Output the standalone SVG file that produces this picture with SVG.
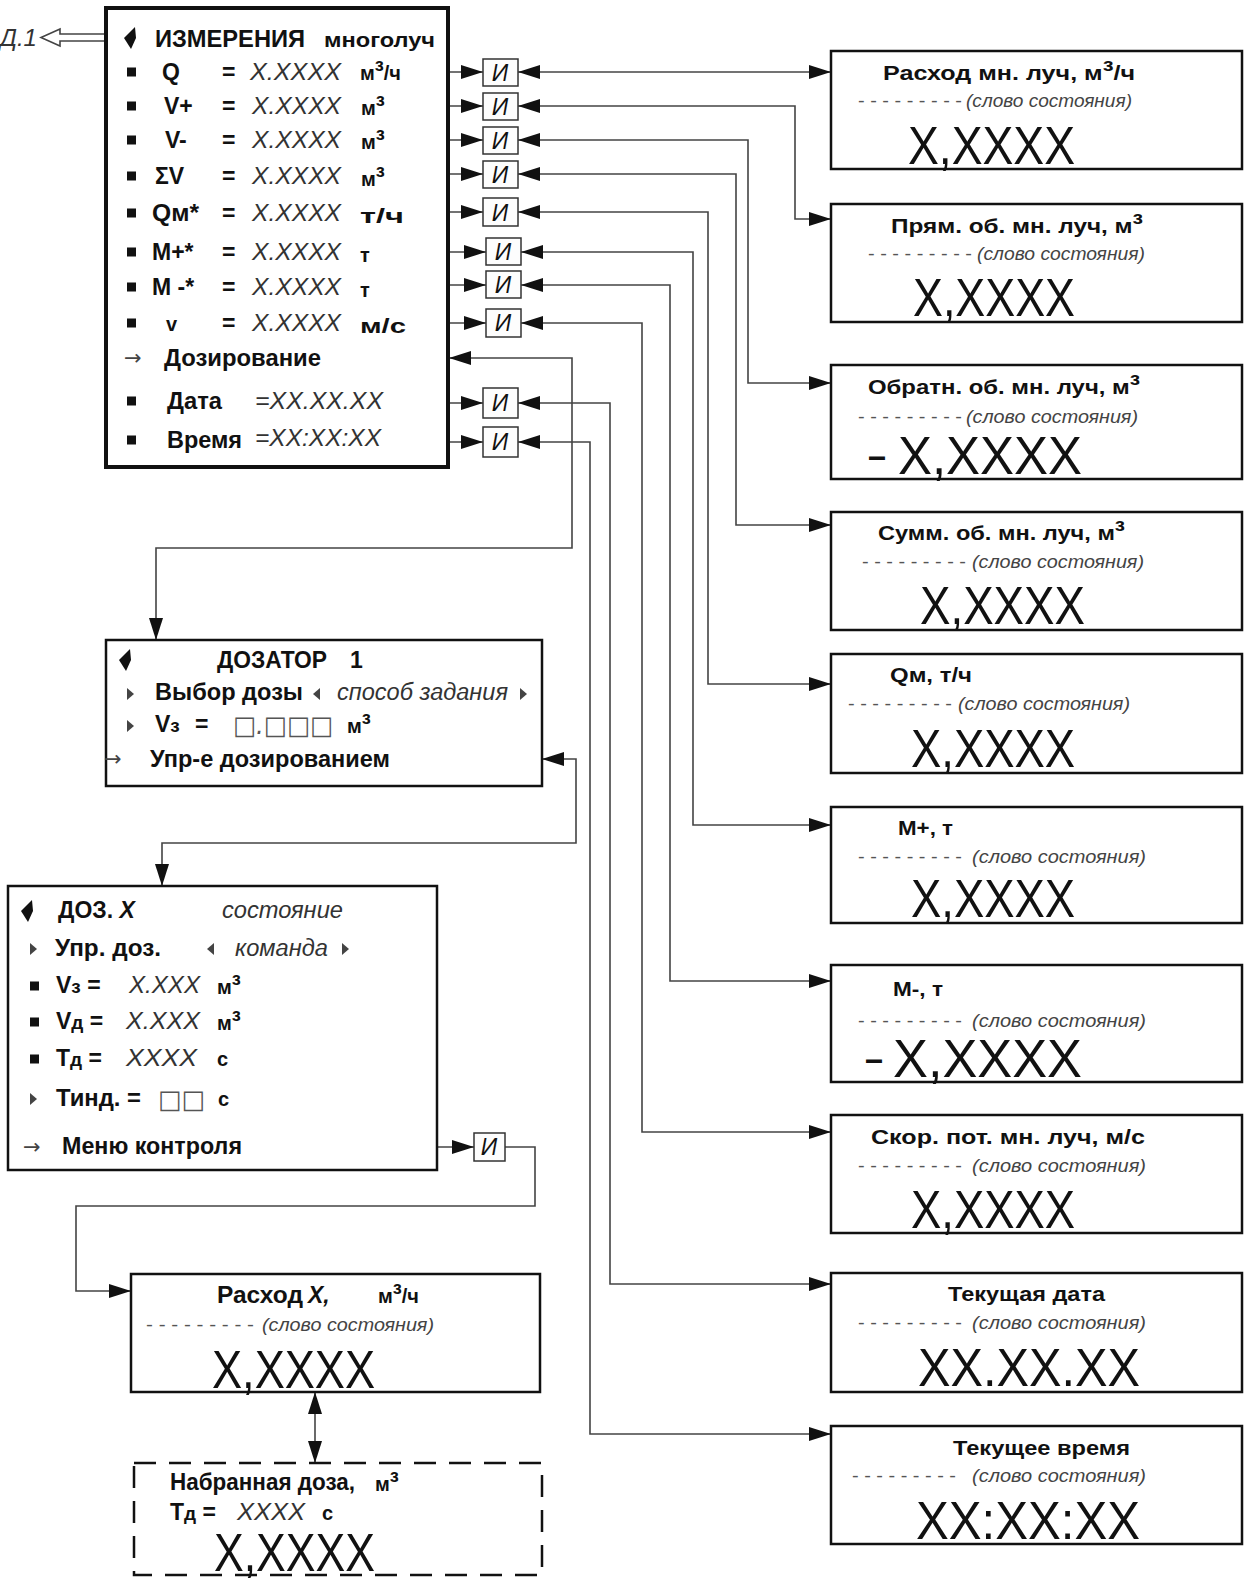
<svg xmlns="http://www.w3.org/2000/svg" width="1249" height="1582" viewBox="0 0 1249 1582">
<style>
text{font-family:"Liberation Sans",Arial,sans-serif}
.b{font-weight:bold;fill:#111;font-size:23px}
.u{font-weight:bold;fill:#111;font-size:20px}
.t{font-weight:bold;fill:#111;font-size:21px}
.i{font-style:italic;fill:#333;font-size:23px}
.s{font-style:italic;fill:#444;font-size:19px}
.d{fill:#555;font-size:19px}
.v{fill:#111;font-size:54px}
.ar{font-family:"DejaVu Sans",sans-serif;fill:#444;font-size:21px}
.g{font-family:"DejaVu Sans",sans-serif;font-style:italic;fill:#555;font-size:26px}
.sp{font-size:27px}
.box{fill:#fff;stroke:#111;stroke-width:2.5}
.ib{fill:#fdfdfd;stroke:#333;stroke-width:1.5}
.it{font-style:italic;fill:#111;font-size:23px;text-anchor:middle}
.c{fill:none;stroke:#444;stroke-width:1.6}
</style>
<defs>
<marker id="ah" markerWidth="22" markerHeight="14" refX="22" refY="7" orient="auto-start-reverse" markerUnits="userSpaceOnUse"><path d="M0,0 L22,7 L0,14 Z" fill="#111"/></marker>
<path id="ptr" d="M5,-11 L6,0 L1,11 L-6,0 Z" fill="#111"/>
<rect id="bul" x="0" y="-4.5" width="9" height="9" fill="#111"/>
<path id="tr" d="M0,-6 L7,0 L0,6 Z" fill="#444"/>
<path id="tl" d="M7,-6 L0,0 L7,6 Z" fill="#444"/>
</defs>

<g id="connectors">
<path class="c" d="M106,34 H60 V29 L41,37.5 L60,46 V41 H106" fill="#fff"/>
<path class="c" marker-end="url(#ah)" d="M449,72 H483"/>
<path class="c" marker-end="url(#ah)" d="M449,106 H483"/>
<path class="c" marker-end="url(#ah)" d="M449,140 H483"/>
<path class="c" marker-end="url(#ah)" d="M449,174 H483"/>
<path class="c" marker-end="url(#ah)" d="M449,212 H483"/>
<path class="c" marker-end="url(#ah)" d="M449,252 H486"/>
<path class="c" marker-end="url(#ah)" d="M449,285 H486"/>
<path class="c" marker-end="url(#ah)" d="M449,323 H486"/>
<path class="c" marker-end="url(#ah)" d="M449,403 H483"/>
<path class="c" marker-end="url(#ah)" d="M449,442 H483"/>
<path class="c" marker-start="url(#ah)" marker-end="url(#ah)" d="M518,72 H831"/>
<path class="c" marker-start="url(#ah)" marker-end="url(#ah)" d="M518,106 H795 V219 H831"/>
<path class="c" marker-start="url(#ah)" marker-end="url(#ah)" d="M518,140 H748 V383 H831"/>
<path class="c" marker-start="url(#ah)" marker-end="url(#ah)" d="M518,174 H736 V525 H831"/>
<path class="c" marker-start="url(#ah)" marker-end="url(#ah)" d="M518,212 H708 V684 H831"/>
<path class="c" marker-start="url(#ah)" marker-end="url(#ah)" d="M521,252 H693 V825 H831"/>
<path class="c" marker-start="url(#ah)" marker-end="url(#ah)" d="M521,285 H670 V981 H831"/>
<path class="c" marker-start="url(#ah)" marker-end="url(#ah)" d="M521,323 H642 V1132 H831"/>
<path class="c" marker-start="url(#ah)" marker-end="url(#ah)" d="M518,403 H610 V1284 H831"/>
<path class="c" marker-start="url(#ah)" marker-end="url(#ah)" d="M518,442 H590 V1434 H831"/>
<path class="c" marker-start="url(#ah)" marker-end="url(#ah)" d="M449,358 H572 V548 H156 V640"/>
<path class="c" marker-start="url(#ah)" marker-end="url(#ah)" d="M542,759 H576 V843 H162 V886"/>
<path class="c" marker-end="url(#ah)" d="M437,1147 H474"/>
<path class="c" marker-end="url(#ah)" d="M505,1147 H535 V1206 H76 V1291 H131"/>
<path class="c" marker-start="url(#ah)" marker-end="url(#ah)" d="M315,1392 V1463"/>
</g>

<g id="d1-label">
<text class="i" x="0" y="46" textLength="37" lengthAdjust="spacingAndGlyphs">Д.1</text>
</g>

<g id="measure">
<rect x="106" y="8" width="342" height="459" fill="#fff" stroke="#111" stroke-width="4"/>
<use href="#ptr" x="130" y="38"/>
<text class="b" x="155" y="47" font-size="24" textLength="150" lengthAdjust="spacingAndGlyphs">ИЗМЕРЕНИЯ</text>
<text class="u" x="324" y="47" textLength="111" lengthAdjust="spacingAndGlyphs">многолуч</text>

<use href="#bul" x="127" y="72"/>
<text class="b" x="162" y="80">Q</text><text class="b" x="222" y="80">=</text>
<text class="i" x="250" y="80" textLength="91" lengthAdjust="spacingAndGlyphs">X.XXXX</text>
<text class="u" x="360" y="80">м<tspan class="sp">³</tspan>/ч</text>

<use href="#bul" x="127" y="106"/>
<text class="b" x="164" y="114">V+</text><text class="b" x="222" y="114">=</text>
<text class="i" x="252" y="114" textLength="89" lengthAdjust="spacingAndGlyphs">X.XXXX</text>
<text class="u" x="361" y="115">м<tspan class="sp">³</tspan></text>

<use href="#bul" x="127" y="140"/>
<text class="b" x="165" y="148">V-</text><text class="b" x="222" y="148">=</text>
<text class="i" x="252" y="148" textLength="89" lengthAdjust="spacingAndGlyphs">X.XXXX</text>
<text class="u" x="361" y="149">м<tspan class="sp">³</tspan></text>

<use href="#bul" x="127" y="176"/>
<text class="b" x="155" y="184">ΣV</text><text class="b" x="222" y="184">=</text>
<text class="i" x="252" y="184" textLength="89" lengthAdjust="spacingAndGlyphs">X.XXXX</text>
<text class="u" x="361" y="186">м<tspan class="sp">³</tspan></text>

<use href="#bul" x="127" y="213"/>
<text class="b" x="152" y="221" textLength="47" lengthAdjust="spacingAndGlyphs">Qм*</text><text class="b" x="222" y="221">=</text>
<text class="i" x="252" y="221" textLength="89" lengthAdjust="spacingAndGlyphs">X.XXXX</text>
<text class="u" x="360" y="223" textLength="44" lengthAdjust="spacingAndGlyphs">т/ч</text>

<use href="#bul" x="127" y="252"/>
<text class="b" x="152" y="260">М+*</text><text class="b" x="222" y="260">=</text>
<text class="i" x="252" y="260" textLength="89" lengthAdjust="spacingAndGlyphs">X.XXXX</text>
<text class="u" x="360" y="262">т</text>

<use href="#bul" x="127" y="287"/>
<text class="b" x="152" y="295">М -*</text><text class="b" x="222" y="295">=</text>
<text class="i" x="252" y="295" textLength="89" lengthAdjust="spacingAndGlyphs">X.XXXX</text>
<text class="u" x="360" y="297">т</text>

<use href="#bul" x="127" y="323"/>
<text class="u" x="166" y="331">v</text><text class="b" x="222" y="331">=</text>
<text class="i" x="252" y="331" textLength="89" lengthAdjust="spacingAndGlyphs">X.XXXX</text>
<text class="u" x="360" y="333" textLength="46" lengthAdjust="spacingAndGlyphs">м/с</text>

<text class="ar" x="124" y="365">→</text>
<text class="b" x="164" y="366" textLength="157" lengthAdjust="spacingAndGlyphs">Дозирование</text>

<use href="#bul" x="127" y="401"/>
<text class="b" x="167" y="409" textLength="55" lengthAdjust="spacingAndGlyphs">Дата</text>
<text class="i" x="255" y="409" textLength="128" lengthAdjust="spacingAndGlyphs">=XX.XX.XX</text>

<use href="#bul" x="127" y="440"/>
<text class="b" x="167" y="448" textLength="75" lengthAdjust="spacingAndGlyphs">Время</text>
<text class="i" x="255" y="446" textLength="126" lengthAdjust="spacingAndGlyphs">=XX:XX:XX</text>
</g>

<g id="and-gates">
<rect class="ib" x="483" y="59" width="35" height="27"/><text class="it" x="500" y="81">И</text>
<rect class="ib" x="483" y="93" width="35" height="27"/><text class="it" x="500" y="115">И</text>
<rect class="ib" x="483" y="127" width="35" height="27"/><text class="it" x="500" y="149">И</text>
<rect class="ib" x="483" y="161" width="35" height="27"/><text class="it" x="500" y="183">И</text>
<rect class="ib" x="483" y="198" width="35" height="28"/><text class="it" x="500" y="221">И</text>
<rect class="ib" x="486" y="238" width="35" height="27"/><text class="it" x="503" y="260">И</text>
<rect class="ib" x="486" y="271" width="35" height="27"/><text class="it" x="503" y="293">И</text>
<rect class="ib" x="486" y="309" width="35" height="28"/><text class="it" x="503" y="331">И</text>
<rect class="ib" x="483" y="388" width="35" height="30"/><text class="it" x="500" y="411">И</text>
<rect class="ib" x="483" y="427" width="35" height="30"/><text class="it" x="500" y="450">И</text>
<rect class="ib" x="474" y="1133" width="31" height="28"/><text class="it" x="489" y="1155">И</text>
</g>

<g id="disp-flow">
<rect class="box" x="831" y="51" width="411" height="118"/>
<text class="t" x="883" y="80" textLength="252" lengthAdjust="spacingAndGlyphs">Расход мн. луч,  м<tspan class="sp">³</tspan>/ч</text>
<text class="d" x="858" y="107" textLength="104" lengthAdjust="spacingAndGlyphs">- - - - - - - - -</text>
<text class="s" x="966" y="107" textLength="166" lengthAdjust="spacingAndGlyphs">(слово состояния)</text>
<text class="v" x="908" y="164" textLength="167" lengthAdjust="spacingAndGlyphs">X,XXXX</text>
</g>
<g id="disp-vplus">
<rect class="box" x="831" y="204" width="411" height="118"/>
<text class="t" x="891" y="233" textLength="252" lengthAdjust="spacingAndGlyphs">Прям. об. мн. луч,  м<tspan class="sp">³</tspan></text>
<text class="d" x="868" y="260" textLength="104" lengthAdjust="spacingAndGlyphs">- - - - - - - - -</text>
<text class="s" x="977" y="260" textLength="168" lengthAdjust="spacingAndGlyphs">(слово состояния)</text>
<text class="v" x="913" y="316" textLength="162" lengthAdjust="spacingAndGlyphs">X,XXXX</text>
</g>
<g id="disp-vminus">
<rect class="box" x="831" y="365" width="411" height="114"/>
<text class="t" x="868" y="394" textLength="272" lengthAdjust="spacingAndGlyphs">Обратн. об. мн. луч, м<tspan class="sp">³</tspan></text>
<text class="d" x="858" y="423" textLength="104" lengthAdjust="spacingAndGlyphs">- - - - - - - - -</text>
<text class="s" x="966" y="423" textLength="172" lengthAdjust="spacingAndGlyphs">(слово состояния)</text>
<text class="v" x="869" y="472" textLength="16" lengthAdjust="spacingAndGlyphs">–</text>
<text class="v" x="898" y="474" textLength="184" lengthAdjust="spacingAndGlyphs">X,XXXX</text>
</g>
<g id="disp-vsum">
<rect class="box" x="831" y="512" width="411" height="118"/>
<text class="t" x="878" y="540" textLength="247" lengthAdjust="spacingAndGlyphs">Сумм. об. мн. луч, м<tspan class="sp">³</tspan></text>
<text class="d" x="862" y="568" textLength="104" lengthAdjust="spacingAndGlyphs">- - - - - - - - -</text>
<text class="s" x="972" y="568" textLength="172" lengthAdjust="spacingAndGlyphs">(слово состояния)</text>
<text class="v" x="920" y="624" textLength="165" lengthAdjust="spacingAndGlyphs">X,XXXX</text>
</g>
<g id="disp-qm">
<rect class="box" x="831" y="654" width="411" height="119"/>
<text class="t" x="890" y="682" textLength="82" lengthAdjust="spacingAndGlyphs">Qм, т/ч</text>
<text class="d" x="848" y="710" textLength="104" lengthAdjust="spacingAndGlyphs">- - - - - - - - -</text>
<text class="s" x="958" y="710" textLength="172" lengthAdjust="spacingAndGlyphs">(слово состояния)</text>
<text class="v" x="911" y="767" textLength="164" lengthAdjust="spacingAndGlyphs">X,XXXX</text>
</g>
<g id="disp-mplus">
<rect class="box" x="831" y="807" width="411" height="116"/>
<text class="t" x="898" y="835" textLength="55" lengthAdjust="spacingAndGlyphs">М+, т</text>
<text class="d" x="858" y="863" textLength="104" lengthAdjust="spacingAndGlyphs">- - - - - - - - -</text>
<text class="s" x="972" y="863" textLength="174" lengthAdjust="spacingAndGlyphs">(слово состояния)</text>
<text class="v" x="911" y="917" textLength="164" lengthAdjust="spacingAndGlyphs">X,XXXX</text>
</g>
<g id="disp-mminus">
<rect class="box" x="831" y="965" width="411" height="117"/>
<text class="t" x="893" y="996" textLength="50" lengthAdjust="spacingAndGlyphs">М-, т</text>
<text class="d" x="858" y="1027" textLength="104" lengthAdjust="spacingAndGlyphs">- - - - - - - - -</text>
<text class="s" x="972" y="1027" textLength="174" lengthAdjust="spacingAndGlyphs">(слово состояния)</text>
<text class="v" x="866" y="1075" textLength="16" lengthAdjust="spacingAndGlyphs">–</text>
<text class="v" x="893" y="1077" textLength="189" lengthAdjust="spacingAndGlyphs">X,XXXX</text>
</g>
<g id="disp-speed">
<rect class="box" x="831" y="1115" width="411" height="118"/>
<text class="t" x="871" y="1144" textLength="274" lengthAdjust="spacingAndGlyphs">Скор. пот. мн. луч,  м/с</text>
<text class="d" x="858" y="1172" textLength="104" lengthAdjust="spacingAndGlyphs">- - - - - - - - -</text>
<text class="s" x="972" y="1172" textLength="174" lengthAdjust="spacingAndGlyphs">(слово состояния)</text>
<text class="v" x="911" y="1228" textLength="164" lengthAdjust="spacingAndGlyphs">X,XXXX</text>
</g>
<g id="disp-date">
<rect class="box" x="831" y="1273" width="411" height="119"/>
<text class="t" x="948" y="1301" textLength="157" lengthAdjust="spacingAndGlyphs">Текущая дата</text>
<text class="d" x="858" y="1329" textLength="104" lengthAdjust="spacingAndGlyphs">- - - - - - - - -</text>
<text class="s" x="972" y="1329" textLength="174" lengthAdjust="spacingAndGlyphs">(слово состояния)</text>
<text class="v" x="918" y="1386" textLength="222" lengthAdjust="spacingAndGlyphs">XX.XX.XX</text>
</g>
<g id="disp-time">
<rect class="box" x="831" y="1426" width="411" height="118"/>
<text class="t" x="953" y="1455" textLength="177" lengthAdjust="spacingAndGlyphs">Текущее время</text>
<text class="d" x="852" y="1482" textLength="104" lengthAdjust="spacingAndGlyphs">- - - - - - - - -</text>
<text class="s" x="972" y="1482" textLength="174" lengthAdjust="spacingAndGlyphs">(слово состояния)</text>
<text class="v" x="916" y="1539" textLength="224" lengthAdjust="spacingAndGlyphs">XX:XX:XX</text>
</g>

<g id="dosator">
<rect class="box" x="106" y="640" width="436" height="146"/>
<use href="#ptr" x="125" y="660"/>
<text class="b" x="217" y="668" textLength="110" lengthAdjust="spacingAndGlyphs">ДОЗАТОР</text>
<text class="b" x="350" y="668">1</text>
<use href="#tr" x="127" y="694"/>
<text class="b" x="155" y="700" textLength="148" lengthAdjust="spacingAndGlyphs">Выбор дозы</text>
<use href="#tl" x="313" y="694"/>
<text class="i" x="337" y="700" textLength="171" lengthAdjust="spacingAndGlyphs">способ задания</text>
<use href="#tr" x="520" y="694"/>
<use href="#tr" x="127" y="726"/>
<text class="b" x="155" y="732">V<tspan font-size="19">з</tspan></text>
<text class="b" x="195" y="732">=</text>
<text class="g" x="233" y="734" textLength="100" lengthAdjust="spacingAndGlyphs">□.□□□</text>
<text class="u" x="347" y="733">м<tspan class="sp">³</tspan></text>
<text class="ar" x="104" y="766">→</text>
<text class="b" x="150" y="767" textLength="240" lengthAdjust="spacingAndGlyphs">Упр-е дозированием</text>
</g>

<g id="doz-x">
<rect class="box" x="8" y="886" width="429" height="284"/>
<use href="#ptr" x="27" y="911"/>
<text class="b" x="58" y="918">ДОЗ. <tspan font-style="italic">X</tspan></text>
<text class="i" x="222" y="918" textLength="121" lengthAdjust="spacingAndGlyphs">состояние</text>
<use href="#tr" x="30" y="949"/>
<text class="b" x="55" y="956" textLength="106" lengthAdjust="spacingAndGlyphs">Упр. доз.</text>
<use href="#tl" x="207" y="949"/>
<text class="i" x="235" y="956" textLength="93" lengthAdjust="spacingAndGlyphs">команда</text>
<use href="#tr" x="342" y="949"/>
<use href="#bul" x="30" y="986"/>
<text class="b" x="56" y="993">V<tspan font-size="19">з</tspan> =</text>
<text class="i" x="129" y="993" textLength="71" lengthAdjust="spacingAndGlyphs">X.XXX</text>
<text class="u" x="217" y="994">м<tspan class="sp">³</tspan></text>
<use href="#bul" x="30" y="1022"/>
<text class="b" x="56" y="1029">V<tspan font-size="19">д</tspan> =</text>
<text class="i" x="126" y="1029" textLength="74" lengthAdjust="spacingAndGlyphs">X.XXX</text>
<text class="u" x="217" y="1030">м<tspan class="sp">³</tspan></text>
<use href="#bul" x="30" y="1059"/>
<text class="b" x="56" y="1066">Т<tspan font-size="19">д</tspan> =</text>
<text class="i" x="126" y="1066" textLength="71" lengthAdjust="spacingAndGlyphs">XXXX</text>
<text class="u" x="217" y="1066">с</text>
<use href="#tr" x="30" y="1099"/>
<text class="b" x="56" y="1106" textLength="85" lengthAdjust="spacingAndGlyphs">Тинд. =</text>
<text class="g" x="158" y="1108" textLength="47" lengthAdjust="spacingAndGlyphs">□□</text>
<text class="u" x="218" y="1106">с</text>
<text class="ar" x="23" y="1154">→</text>
<text class="b" x="62" y="1154" textLength="180" lengthAdjust="spacingAndGlyphs">Меню контроля</text>
</g>

<g id="flow-x">
<rect class="box" x="131" y="1274" width="409" height="118"/>
<text class="b" x="217" y="1303" textLength="86" lengthAdjust="spacingAndGlyphs">Расход</text>
<text class="b" x="308" y="1303" font-style="italic">X,</text>
<text class="u" x="378" y="1303">м<tspan class="sp">³</tspan>/ч</text>
<text class="d" x="146" y="1331" textLength="108" lengthAdjust="spacingAndGlyphs">- - - - - - - - -</text>
<text class="s" x="262" y="1331" textLength="172" lengthAdjust="spacingAndGlyphs">(слово состояния)</text>
<text class="v" x="212" y="1388" textLength="163" lengthAdjust="spacingAndGlyphs">X,XXXX</text>
</g>

<g id="dose-collected">
<rect x="134" y="1463" width="408" height="112" fill="none" stroke="#111" stroke-width="2.5" stroke-dasharray="22 13"/>
<text class="b" x="170" y="1490" textLength="185" lengthAdjust="spacingAndGlyphs">Набранная доза,</text>
<text class="u" x="375" y="1491">м<tspan class="sp">³</tspan></text>
<text class="b" x="170" y="1520">Т<tspan font-size="19">д</tspan> =</text>
<text class="i" x="237" y="1520" textLength="68" lengthAdjust="spacingAndGlyphs">XXXX</text>
<text class="u" x="322" y="1520">с</text>
<text class="v" x="214" y="1571" font-size="46" textLength="161" lengthAdjust="spacingAndGlyphs">X,XXXX</text>
</g>
</svg>
